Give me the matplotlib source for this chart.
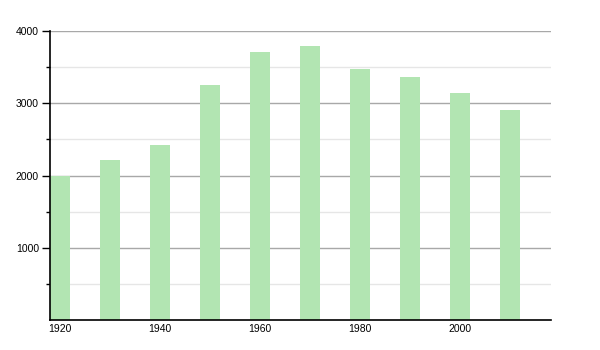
import numpy as np
import matplotlib.pyplot as plt

years = [1920, 1930, 1940, 1950, 1960, 1970, 1980, 1990, 2000, 2010]
population = [2000, 2214, 2422, 3253, 3709, 3792, 3470, 3359, 3142, 2907]
xtick_labels = [1920, 1940, 1960, 1980, 2000]
ytick_labels = [1000, 2000, 3000, 4000]

plt.rcParams["font.family"] = ["Liberation Sans", "DejaVu Sans"]

fig = plt.figure(figsize=(6, 3.5), dpi=100)
ax = fig.add_axes([50 / 600, 30 / 350, 501 / 600, 289 / 350])

ax.bar(years, population, width=4, color="#b2e5b2", zorder=2)

ax.set_xlim(1918, 2018.2)
ax.set_ylim(0, 4000)

ax.set_xticks(xtick_labels)
ax.set_xticklabels([str(v) for v in xtick_labels])
ax.set_yticks(ytick_labels)
ax.set_yticklabels([str(v) for v in ytick_labels])
ax.set_yticks(np.arange(500, 4000, 1000), minor=True)

# grid: darker major lines, faint minor ones
ax.grid(axis="y", which="major", color="#a8a8a8", linewidth=1, zorder=1)
ax.grid(axis="y", which="minor", color="#e6e6e6", linewidth=1, zorder=1)
ax.grid(axis="x", visible=False)

for side in ["top", "right"]:
    ax.spines[side].set_visible(False)
ax.spines["left"].set_linewidth(1.2)
ax.spines["bottom"].set_linewidth(1.2)

ax.tick_params(axis="x", length=0, labelsize=7.5, pad=3)
ax.tick_params(axis="y", which="major", length=6, width=1, labelsize=7.5, pad=2)
ax.tick_params(axis="y", which="minor", length=3, width=1)

plt.savefig("out.png", dpi=100)
